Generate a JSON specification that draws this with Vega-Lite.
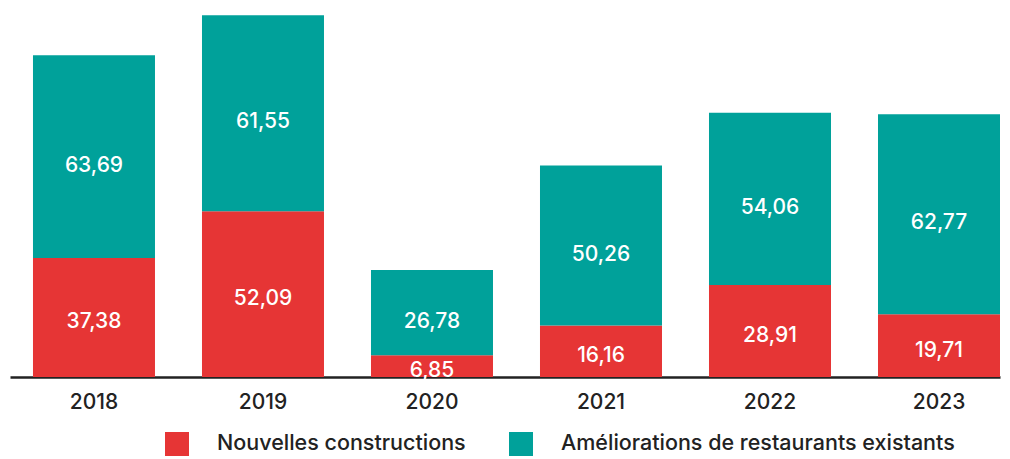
{
  "$schema": "https://vega.github.io/schema/vega-lite/v6.json",
  "width": 990,
  "height": 377,
  "autosize": {"type": "none"},
  "padding": {"left": 10, "right": 10, "top": 0, "bottom": 82},
  "background": "#ffffff",
  "config": {"view": {"stroke": null}, "font": "Inter"},
  "data": {
    "values": [
      {"year": "2018", "type": "Nouvelles constructions", "value": 37.38},
      {"year": "2018", "type": "Améliorations de restaurants existants", "value": 63.69},
      {"year": "2019", "type": "Nouvelles constructions", "value": 52.09},
      {"year": "2019", "type": "Améliorations de restaurants existants", "value": 61.55},
      {"year": "2020", "type": "Nouvelles constructions", "value": 6.85},
      {"year": "2020", "type": "Améliorations de restaurants existants", "value": 26.78},
      {"year": "2021", "type": "Nouvelles constructions", "value": 16.16},
      {"year": "2021", "type": "Améliorations de restaurants existants", "value": 50.26},
      {"year": "2022", "type": "Nouvelles constructions", "value": 28.91},
      {"year": "2022", "type": "Améliorations de restaurants existants", "value": 54.06},
      {"year": "2023", "type": "Nouvelles constructions", "value": 19.71},
      {"year": "2023", "type": "Améliorations de restaurants existants", "value": 62.77}
    ]
  },
  "transform": [
    {"calculate": "datum.type === 'Nouvelles constructions' ? 0 : 1", "as": "ord"},
    {"stack": "value", "groupby": ["year"], "sort": [{"field": "ord"}], "as": ["v0", "v1"]},
    {"calculate": "(datum.v0 + datum.v1) / 2", "as": "mid"},
    {"calculate": "replace(format(datum.value, '.2f'), '.', ',')", "as": "lbl"}
  ],
  "encoding": {
    "x": {
      "field": "year",
      "type": "ordinal",
      "scale": {"paddingInner": 0.2781, "paddingOuter": 0.068, "align": 1},
      "axis": {
        "title": null,
        "labelAngle": 0,
        "ticks": false,
        "domainColor": "#222222",
        "domainWidth": 2.5,
        "labelFontSize": 21,
        "labelFontWeight": 500,
        "labelColor": "#222222",
        "labelPadding": 14
      }
    }
  },
  "layer": [
    {
      "mark": {"type": "bar"},
      "encoding": {
        "y": {
          "field": "v0",
          "type": "quantitative",
          "scale": {"domain": [0, 118.4], "nice": false},
          "axis": null
        },
        "y2": {"field": "v1"},
        "color": {
          "field": "type",
          "type": "nominal",
          "scale": {
            "domain": ["Nouvelles constructions", "Améliorations de restaurants existants"],
            "range": ["#E63535", "#00A19A"]
          },
          "legend": {
            "orient": "none",
            "legendX": 155,
            "legendY": 432,
            "direction": "horizontal",
            "title": null,
            "padding": 0,
            "symbolType": "square",
            "symbolSize": 576,
            "symbolStrokeWidth": 0,
            "symbolOpacity": 1,
            "labelFontSize": 21.5,
            "labelFontWeight": 500,
            "labelColor": "#222222",
            "labelOffset": 28,
            "columnPadding": 43,
            "labelLimit": 600
          }
        }
      }
    },
    {
      "transform": [{"filter": "datum.ord === 1"}],
      "mark": {"type": "text", "color": "#ffffff", "fontSize": 21, "fontWeight": 500, "baseline": "middle", "dy": 9},
      "encoding": {
        "y": {"field": "mid", "type": "quantitative"},
        "text": {"field": "lbl"}
      }
    },
    {
      "transform": [{"filter": "datum.ord === 0"}],
      "mark": {"type": "text", "color": "#ffffff", "fontSize": 21, "fontWeight": 500, "baseline": "middle", "dy": 5},
      "encoding": {
        "y": {"field": "mid", "type": "quantitative"},
        "text": {"field": "lbl"}
      }
    }
  ]
}
